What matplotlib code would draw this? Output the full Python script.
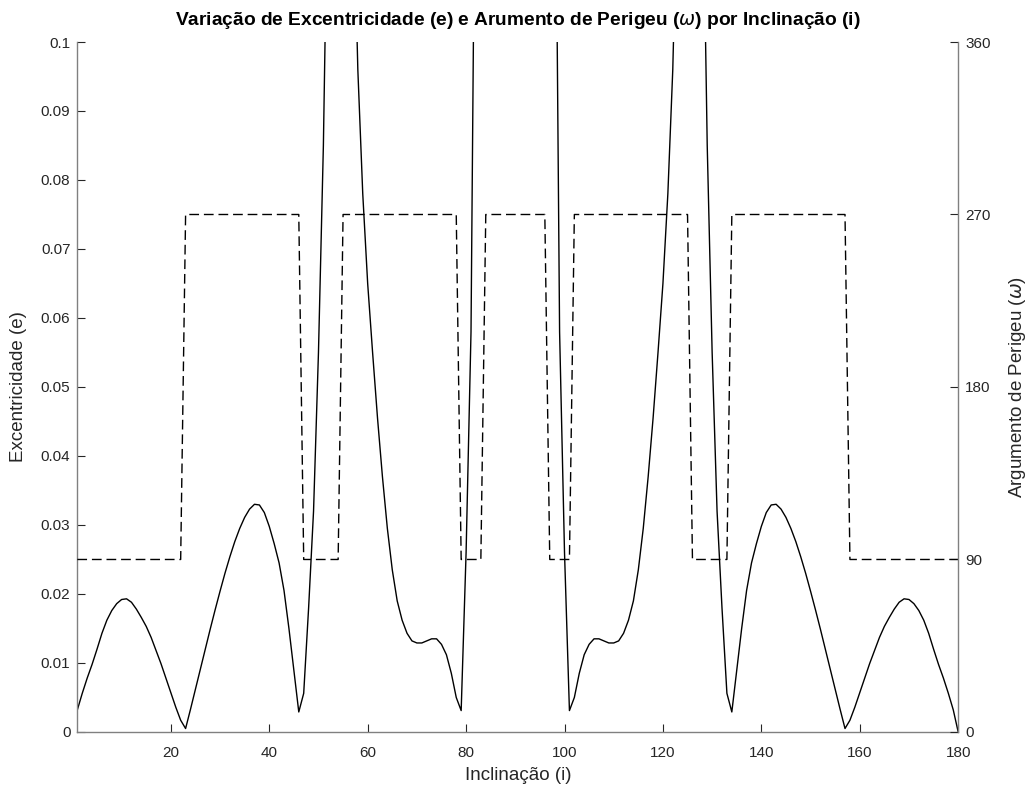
import numpy as np
import matplotlib
matplotlib.use("Agg")
import matplotlib.pyplot as plt

plt.rcParams['font.family'] = ['Liberation Sans', 'DejaVu Sans']

# inclinacao 1..180 graus
inclinacao = np.arange(1, 181)

# excentricidade (1 ponto por grau)
excentricidade = [
    0.0032, 0.0056, 0.0078, 0.0098, 0.0120, 0.0143, 0.0162, 0.0176, 0.0186, 0.0192,
    0.0193, 0.0188, 0.0178, 0.0166, 0.0153, 0.0137, 0.0118, 0.0099, 0.0078, 0.0057,
    0.0036, 0.0017, 0.0005, 0.0033, 0.0062, 0.0091, 0.0120, 0.0149, 0.0177, 0.0204,
    0.0230, 0.0254, 0.0276, 0.0295, 0.0311, 0.0323, 0.0330, 0.0329, 0.0318, 0.0298,
    0.0273, 0.0245, 0.0205, 0.0150, 0.0090, 0.0029, 0.0056, 0.0180, 0.0320, 0.0550,
    0.0850, 0.1300, 0.2200, 0.6000, 0.9000, 0.3000, 0.1250, 0.0960, 0.0780, 0.0650,
    0.0550, 0.0455, 0.0370, 0.0295, 0.0235, 0.0190, 0.0162, 0.0143, 0.0132, 0.0129,
    0.0129, 0.0132, 0.0135, 0.0135, 0.0127, 0.0112, 0.0085, 0.0050, 0.0031, 0.0260,
    0.0580, 0.1450, 0.4000, 0.5000, 0.3500, 0.3000, 0.2800, 0.2700, 0.2600, 0.2600,
    0.2600, 0.2700, 0.2800, 0.3000, 0.3500, 0.5000, 0.4000, 0.1450, 0.0580, 0.0260,
    0.0031, 0.0050, 0.0085, 0.0112, 0.0127, 0.0135, 0.0135, 0.0132, 0.0129, 0.0129,
    0.0132, 0.0143, 0.0162, 0.0190, 0.0235, 0.0295, 0.0370, 0.0455, 0.0550, 0.0650,
    0.0780, 0.0960, 0.1250, 0.3000, 0.9000, 0.6000, 0.2200, 0.1300, 0.0850, 0.0550,
    0.0320, 0.0180, 0.0056, 0.0029, 0.0090, 0.0150, 0.0205, 0.0245, 0.0273, 0.0298,
    0.0318, 0.0329, 0.0330, 0.0323, 0.0311, 0.0295, 0.0276, 0.0254, 0.0230, 0.0204,
    0.0177, 0.0149, 0.0120, 0.0091, 0.0062, 0.0033, 0.0005, 0.0017, 0.0036, 0.0057,
    0.0078, 0.0099, 0.0118, 0.0137, 0.0153, 0.0166, 0.0178, 0.0188, 0.0193, 0.0192,
    0.0186, 0.0176, 0.0162, 0.0143, 0.0120, 0.0098, 0.0078, 0.0056, 0.0032, 0.0,
]

# argumento de perigeu: niveis e quantos graus seguidos em cada nivel
omega_niveis = [90, 270, 90, 270, 90, 270, 90, 270, 90, 270, 90]
omega_graus = [22, 24, 8, 24, 5, 13, 5, 24, 8, 24, 23]
omega = np.repeat(omega_niveis, omega_graus)

e_ticks = [0, 0.01, 0.02, 0.03, 0.04, 0.05, 0.06, 0.07, 0.08, 0.09, 0.1]
e_labels = ['0', '0.01', '0.02', '0.03', '0.04', '0.05', '0.06', '0.07', '0.08', '0.09', '0.1']
w_ticks = [0, 90, 180, 270, 360]
x_ticks = [20, 40, 60, 80, 100, 120, 140, 160, 180]

cinza = '#262626'

fig = plt.figure(figsize=(10.27, 7.88), dpi=100)
ax = fig.add_axes([0.0753, 0.0711, 0.8577, 0.8756])
ax2 = ax.twinx()

ax.plot(inclinacao, excentricidade, color='black', linewidth=1.0)
ax2.plot(inclinacao, omega, color='black', linewidth=1.0, linestyle=(0, (7, 3.5)))

ax.set_xlim(1, 180)
ax.set_ylim(0, 0.1)
ax2.set_ylim(0, 360)

ax.set_xticks(x_ticks)
ax.set_yticks(e_ticks)
ax.set_yticklabels(e_labels)
ax2.set_yticks(w_ticks)

for a in (ax, ax2):
    a.spines['top'].set_visible(False)
    for s in a.spines.values():
        s.set_color('#808080')
        s.set_linewidth(1.0)
    a.tick_params(direction='in', length=6, width=0.8, color=cinza,
                  labelsize=11, labelcolor=cinza, pad=5)
ax.tick_params(axis='x', pad=10)
ax.spines['right'].set_visible(False)
ax2.spines['left'].set_visible(False)
ax2.spines['bottom'].set_visible(False)

ax.set_xlabel('Inclinação (i)', fontsize=13.5, color=cinza, labelpad=5)
ax.set_ylabel('Excentricidade (e)', fontsize=13.5, color=cinza, labelpad=10)
ax2.set_ylabel('Argumento de Perigeu ($\\omega$)', fontsize=13.5, color=cinza, labelpad=12)
ax.set_title('Variação de Excentricidade (e) e Arumento de Perigeu ($\\omega$) por Inclinação (i)',
             fontsize=13.8, fontweight='bold', color='black', pad=12)

plt.savefig('out.png', dpi=100)
